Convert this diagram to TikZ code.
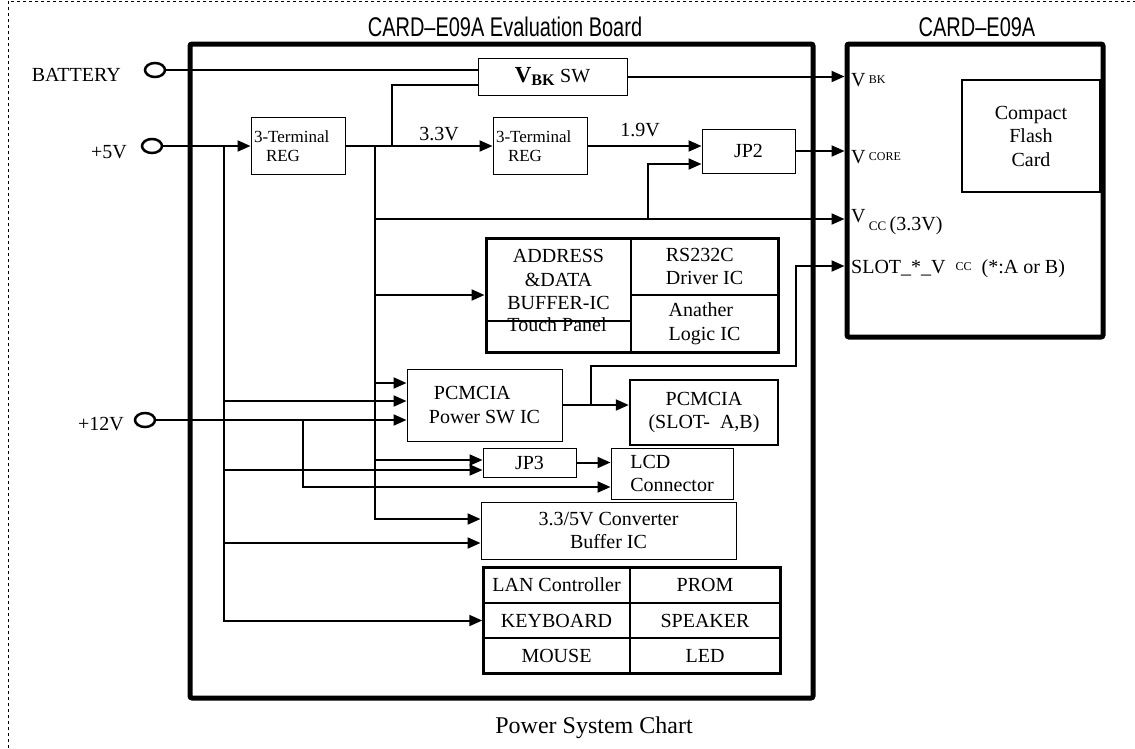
\documentclass[tikz,border=0pt]{standalone}
\usepackage{fontspec}
\setmainfont{Liberation Serif}
\newfontfamily\cadfont[FakeStretch=0.74]{Liberation Sans}
\usetikzlibrary{arrows.meta,shapes.geometric}

\begin{document}
\begin{tikzpicture}[x=1pt,y=-1pt,>={Triangle[length=13pt,width=11pt]},
  txt/.style={font=\fontsize{20}{23.5}\selectfont,inner sep=1pt},
  small/.style={font=\fontsize{17}{19}\selectfont},
  wire/.style={line width=2pt},
  box/.style={draw,line width=1pt,inner sep=2pt,txt},
  thickbox/.style={draw,line width=2.5pt,inner sep=2pt,txt},
  cell/.style={draw,line width=1.5pt,inner sep=2pt,txt},
  gridbox/.style={draw,line width=3pt,inner sep=0pt},
  frame/.style={draw,line width=5pt,rounded corners=2pt,inner sep=0pt},
  term/.style={draw,ellipse,line width=2.5pt,minimum width=20pt,minimum height=14pt,inner sep=0pt},
  title/.style={font=\cadfont\fontsize{27}{27}\selectfont,inner sep=0pt}]
\useasboundingbox (0,0) rectangle (1135,748);
\draw[dashed,line width=0.8pt] (8,748) -- (8,1) -- (1135,1);

% frames and titles
\node[frame,minimum width=623,minimum height=654] (board) at (501.5,371) {};
\node[frame,minimum width=256,minimum height=293] (card) at (975,190.5) {};
\node[title] (boardttl) at (505,27) {CARD–E09A Evaluation Board};
\node[title] (cardttl) at (977,27) {CARD–E09A};
\node[thickbox,minimum width=138,minimum height=112,align=center] (cf) at (1031,136) {Compact\\Flash\\Card};
\node[txt,font=\fontsize{24}{24}\selectfont] (chart) at (594,728) {Power System Chart};

% supply terminals
\node[term] (bat) at (155,70) {};
\node[term] (p5) at (152,146) {};
\node[term] (p12) at (145,420) {};
\node[txt,anchor=east] (batlbl) at (122,75) {BATTERY};
\node[txt,anchor=east] (p5lbl) at (128,152) {+5V};
\node[txt,anchor=east] (p12lbl) at (125,424) {+12V};

% blocks on the board
\node[box,minimum width=149,minimum height=37] (vbk) at (552.5,76.5) {{\bfseries\fontsize{23}{23}\selectfont V\textsubscript{BK}} SW};
\node[box,small,minimum width=94,minimum height=57,text width=88,align=left] (reg1) at (298,146) {3-Terminal\\\hspace*{12pt}REG};
\node[box,small,minimum width=94,minimum height=57,text width=88,align=left] (reg2) at (540,146) {3-Terminal\\\hspace*{12pt}REG};
\node[box,minimum width=93,minimum height=44] (jp2) at (748.5,151) {JP2};

\node[cell,minimum width=145,minimum height=83,align=center] (addr) at (558.5,279.5) {ADDRESS\\\&DATA\\BUFFER-IC};
\node[cell,minimum width=145,minimum height=31] (touch) at (558.5,336.5) {};
\node[txt] (touchtxt) at (557,325) {Touch Panel};
\node[cell,minimum width=147,minimum height=57,align=left] (rs) at (704.5,266.5) {RS232C\\Driver IC};
\node[cell,minimum width=147,minimum height=57,align=left] (logic) at (704.5,323.5) {Anather\\Logic IC};
\node[gridbox,minimum width=292,minimum height=114] (ioblk) at (632,295) {};

\node[box,minimum width=155,minimum height=72,align=left] (pcsw) at (484.5,405) {\hspace*{5pt}PCMCIA\\Power SW IC};
\node[thickbox,minimum width=148,minimum height=65,align=center] (slot) at (704,412.5) {PCMCIA\\(SLOT-\ \ A,B)};
\node[box,minimum width=93,minimum height=29] (jp3) at (529.5,462.5) {JP3};
\node[box,minimum width=122,minimum height=51,align=left] (lcd) at (672,473.5) {LCD\\Connector};
\node[box,minimum width=255,minimum height=57,align=center] (conv) at (608.5,530.5) {3.3/5V Converter\\Buffer IC};

\node[cell,minimum width=147,minimum height=36] (lan) at (556.5,585) {LAN Controller};
\node[cell,minimum width=150,minimum height=36] (prom) at (705,585) {PROM};
\node[cell,minimum width=147,minimum height=35] (kbd) at (556.5,620.5) {KEYBOARD};
\node[cell,minimum width=150,minimum height=35] (spk) at (705,620.5) {SPEAKER};
\node[cell,minimum width=147,minimum height=35] (mouse) at (556.5,655.5) {MOUSE};
\node[cell,minimum width=150,minimum height=35] (led) at (705,655.5) {LED};
\node[gridbox,minimum width=297,minimum height=106] (misc) at (631.5,620) {};

% card inputs
\node[txt,anchor=west] (vbklbl) at (850,80) {V\,\raisebox{3pt}{\fontsize{12}{12}\selectfont BK}};
\node[txt,anchor=west] (vcorelbl) at (850,157) {V\,\raisebox{3pt}{\fontsize{12}{12}\selectfont CORE}};
\node[txt,anchor=west] (vcclbl) at (850,222) {\raisebox{8pt}{V}\,{\fontsize{13}{13}\selectfont CC}\,(3.3V)};
\node[txt,anchor=west] (slotlbl) at (850,269) {SLOT\_*\_V\ \ \raisebox{3pt}{\fontsize{12}{12}\selectfont CC}\ \ (*:A or B)};

% wire labels
\node[txt] (v33) at (439,134) {3.3V};
\node[txt] (v19) at (640,130) {1.9V};

% taps and inputs
\coordinate (aTop) at (224,146);
\coordinate (bTop) at (375,146);
\coordinate (vbkTap) at (392,146);
\coordinate (vccTap) at (375,219);
\coordinate (jpTap) at (648,219);
\coordinate (slotTap) at (591,405);
\coordinate (slotBend) at (796,366);
\coordinate (lcdTap) at (303,420);
\coordinate (vbkIn) at ([yshift=-8.5pt]vbk.west);
\coordinate (jp2a) at ([yshift=5pt]jp2.west);
\coordinate (jp2b) at ([yshift=-13pt]jp2.west);
\coordinate (slotIn) at ([yshift=-75.5pt]card.west);
\coordinate (pcswB) at ([yshift=22pt]pcsw.west);
\coordinate (pcswA) at ([yshift=4pt]pcsw.west);
\coordinate (pcswC) at ([yshift=-15pt]pcsw.west);
\coordinate (jp3B) at ([yshift=2.5pt]jp3.west);
\coordinate (jp3A) at ([yshift=-7.5pt]jp3.west);
\coordinate (convB) at ([yshift=11.5pt]conv.west);
\coordinate (convA) at ([yshift=-12.5pt]conv.west);
\coordinate (lcd12) at ([yshift=-13.5pt]lcd.west);

% battery
\draw[wire] (bat.east) -- (bat.east -| vbk.west);
\draw[wire,->] (vbk.east) -- (vbk.east -| card.west);
\draw[wire] (vbkTap) |- (vbkIn);

% +5V and its bus
\draw[wire,->] (p5.east) -- (reg1.west);
\draw[wire,->] (aTop) |- (kbd.west);
\draw[wire,->] (aTop |- pcswA) -- (pcswA);
\draw[wire,->] (aTop |- jp3A) -- (jp3A);
\draw[wire,->] (aTop |- convA) -- (convA);

% 3.3V bus
\draw[wire,->] (reg1.east) -- (reg2.west);
\draw[wire,->] (bTop) |- (convB);
\draw[wire,->] (vccTap) -- (vccTap -| card.west);
\draw[wire,->] (bTop |- ioblk.west) -- (ioblk.west);
\draw[wire,->] (bTop |- pcswB) -- (pcswB);
\draw[wire,->] (bTop |- jp3B) -- (jp3B);

% core supply
\draw[wire,->] (reg2.east) -- (jp2a);
\draw[wire,->] (jpTap) |- (jp2b);
\draw[wire,->] (jp2.east) -- (jp2.east -| card.west);

% PCMCIA power
\draw[wire,->] (p12.east) -- (pcswC);
\draw[wire,->] (pcsw.east) -- (pcsw.east -| slot.west);
\draw[wire,->] (slotTap) |- (slotBend) |- (slotIn);
\draw[wire,->] (lcdTap) |- (lcd12);
\draw[wire,->] (jp3.east) -- (jp3.east -| lcd.west);
\end{tikzpicture}
\end{document}
